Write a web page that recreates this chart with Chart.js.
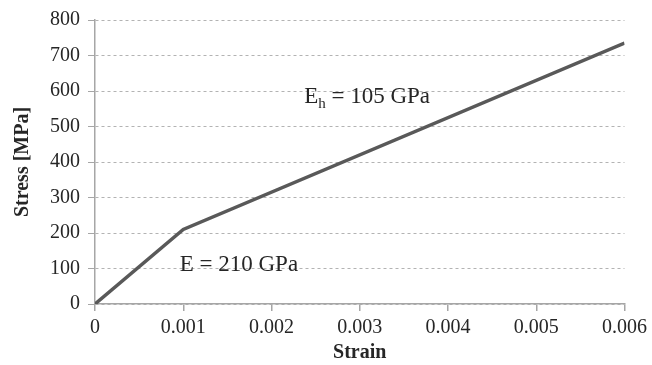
<!DOCTYPE html>
<html>
<head>
<meta charset="utf-8">
<script src="https://cdn.jsdelivr.net/npm/chart.js@4.4.1/dist/chart.umd.min.js"></script>
<style>
html,body{margin:0;padding:0;background:#fff;}
#wrap{width:652px;height:365px;position:relative;}
</style>
</head>
<body>
<div id="wrap"><canvas id="c" width="652" height="365"></canvas></div>
<script>
const strain = [0, 0.001, 0.006];
const stress = [0, 210, 735];
const xTickLabels = ['0', '0.001', '0.002', '0.003', '0.004', '0.005', '0.006'];
const yTickLabels = ['0', '100', '200', '300', '400', '500', '600', '700', '800'];
const annotations = [
  { main: 'E = 210 GPa', sub: '', x: 0.00096, y: 92 },
  { main: 'E', sub: 'h', rest: ' = 105 GPa', x: 0.00237, y: 567 }
];

const serif = "'Liberation Serif', 'Times New Roman', serif";
const textColor = '#262626';

const annotationPlugin = {
  id: 'annot',
  afterDatasetsDraw(chart) {
    const ctx = chart.ctx;
    const xs = chart.scales.x, ys = chart.scales.y;
    ctx.save();
    ctx.fillStyle = textColor;
    ctx.textBaseline = 'alphabetic';
    ctx.textAlign = 'left';
    annotations.forEach(a => {
      let px = xs.getPixelForValue(a.x);
      const py = ys.getPixelForValue(a.y);
      ctx.font = '23px ' + serif;
      ctx.fillText(a.main, px, py);
      if (a.sub) {
        px += ctx.measureText(a.main).width;
        ctx.font = '15px ' + serif;
        ctx.fillText(a.sub, px, py + 5);
        px += ctx.measureText(a.sub).width;
        ctx.font = '23px ' + serif;
        ctx.fillText(a.rest, px, py);
      }
    });
    ctx.restore();
  }
};

new Chart(document.getElementById('c'), {
  type: 'scatter',
  data: {
    datasets: [{
      data: strain.map((s, i) => ({ x: s, y: stress[i] })),
      showLine: true,
      borderColor: '#595959',
      borderWidth: 3.5,
      pointRadius: 0,
      tension: 0,
      fill: false
    }]
  },
  options: {
    responsive: false,
    animation: false,
    devicePixelRatio: 1,
    layout: { padding: { top: 16, right: 25, left: 0, bottom: 0 } },
    plugins: { legend: { display: false }, tooltip: { enabled: false } },
    scales: {
      x: {
        type: 'linear',
        min: 0, max: 0.006,
        afterFit(scale) { scale.height = 61; },
        afterBuildTicks(scale) {
          scale.ticks = xTickLabels.map(t => ({ value: parseFloat(t) }));
        },
        ticks: {
          autoSkip: false,
          maxRotation: 0,
          padding: 5,
          color: textColor,
          font: { family: serif, size: 20 },
          callback: (v, i) => xTickLabels[i]
        },
        grid: {
          drawOnChartArea: false,
          drawTicks: true,
          tickLength: 7,
          color: '#a6a6a6',
          tickColor: '#a6a6a6',
          lineWidth: 1.5
        },
        border: { display: true, color: '#a6a6a6', width: 1.5 },
        title: {
          display: true,
          text: 'Strain',
          color: textColor,
          font: { family: serif, size: 20, weight: 'bold' },
          padding: { top: 0, bottom: 0 }
        }
      },
      y: {
        type: 'linear',
        min: 0, max: 800,
        afterFit(scale) { scale.width = 95; },
        afterBuildTicks(scale) {
          scale.ticks = yTickLabels.map(t => ({ value: parseFloat(t) }));
        },
        ticks: {
          autoSkip: false,
          padding: 8,
          color: textColor,
          font: { family: serif, size: 20 },
          callback: (v, i) => yTickLabels[i]
        },
        grid: {
          drawOnChartArea: true,
          drawTicks: true,
          tickLength: 7,
          color: '#b3b3b3',
          tickColor: '#a6a6a6',
          lineWidth: 1
        },
        border: { display: true, color: '#a6a6a6', width: 1.5, dash: [3, 3] },
        title: {
          display: true,
          text: 'Stress [MPa]',
          color: textColor,
          font: { family: serif, size: 20, weight: 'bold' },
          padding: { top: 11, bottom: 0 }
        }
      }
    }
  },
  plugins: [annotationPlugin]
});
</script>
</body>
</html>
